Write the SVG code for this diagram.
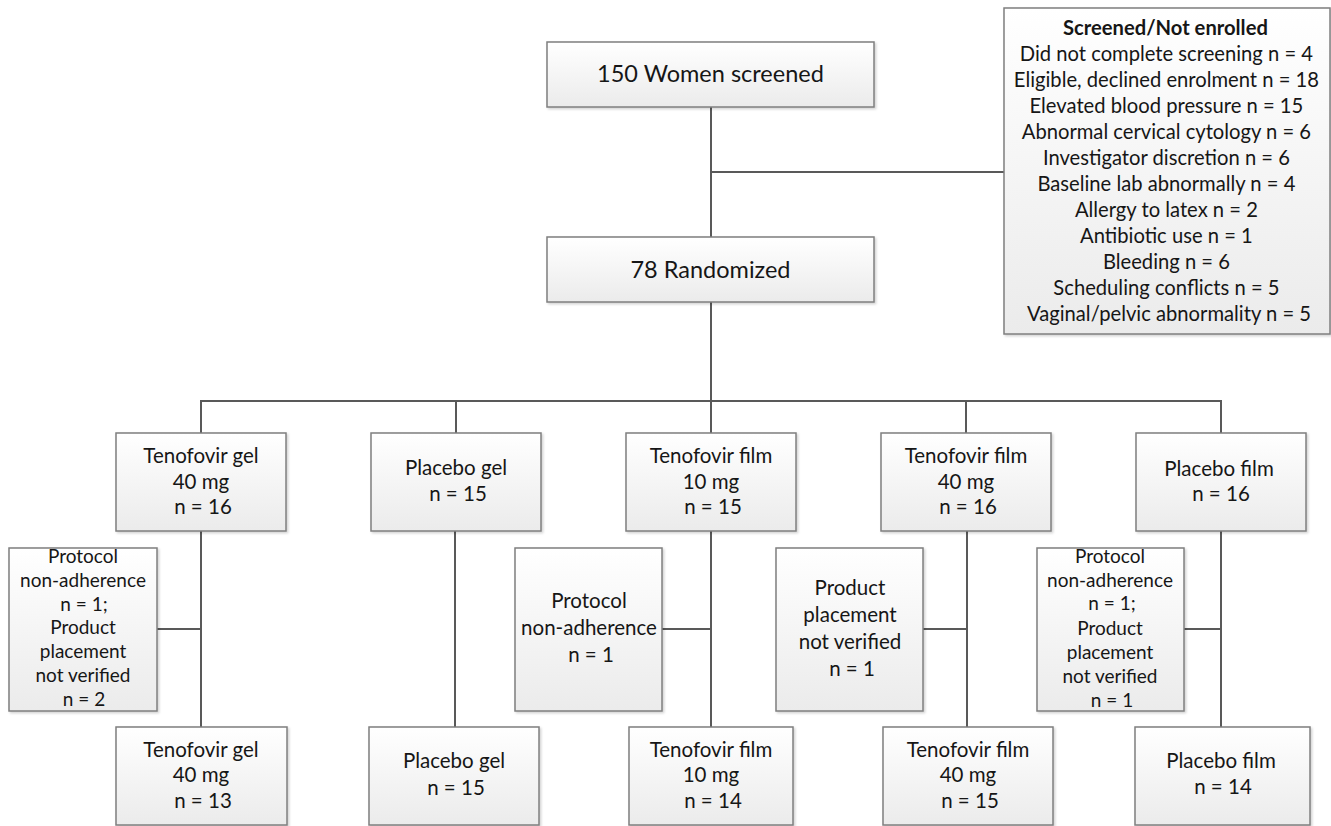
<svg xmlns="http://www.w3.org/2000/svg" width="1331" height="826" viewBox="0 0 1331 826">
<style>
.box{fill:url(#g);stroke:#7f7f7f;stroke-width:1.5;filter:url(#sh)}
.t{font-family:Lato,"Liberation Sans",sans-serif;fill:#161616;text-anchor:middle;font-size:20.5px}
.big{font-size:23.5px}
.sm{font-size:19px}
.ne{font-size:20.2px}
.b{font-weight:bold}
.c line{stroke:#595959;stroke-width:2}
</style>
<defs>
<linearGradient id="g" x1="0" y1="0" x2="0" y2="1">
<stop offset="0" stop-color="#ffffff"/>
<stop offset="1" stop-color="#ebebeb"/>
</linearGradient>
<filter id="sh" x="-5%" y="-5%" width="115%" height="115%">
<feDropShadow dx="1.5" dy="1.5" stdDeviation="1" flood-color="#000" flood-opacity="0.18"/>
</filter>
</defs>
<rect width="1331" height="826" fill="#fff"/>
<g class="c" id="connectors">
<line x1="711" y1="107" x2="711" y2="237"/>
<line x1="711" y1="172" x2="1004" y2="172"/>
<line x1="711" y1="302" x2="711" y2="401"/>
<line x1="200" y1="401" x2="1222" y2="401"/>
<line x1="201" y1="401" x2="201" y2="433"/>
<line x1="456" y1="401" x2="456" y2="433"/>
<line x1="711" y1="401" x2="711" y2="433"/>
<line x1="966" y1="401" x2="966" y2="433"/>
<line x1="1221" y1="401" x2="1221" y2="433"/>
<line x1="201" y1="531" x2="201" y2="727"/>
<line x1="455" y1="531" x2="455" y2="727"/>
<line x1="711" y1="531" x2="711" y2="727"/>
<line x1="967" y1="531" x2="967" y2="727"/>
<line x1="1221" y1="531" x2="1221" y2="727"/>
<line x1="157" y1="629" x2="201" y2="629"/>
<line x1="662" y1="629" x2="711" y2="629"/>
<line x1="923" y1="629" x2="967" y2="629"/>
<line x1="1184" y1="629" x2="1221" y2="629"/>
</g>
<g id="screened">
<rect class="box" x="547" y="42" width="327" height="65"/>
<text class="t big" x="710.5" y="82">150 Women screened</text>
</g>
<g id="randomized">
<rect class="box" x="547" y="237" width="327" height="65"/>
<text class="t big" x="710.5" y="278">78 Randomized</text>
</g>
<g id="not-enrolled">
<rect class="box" x="1004" y="8" width="326" height="326"/>
<text class="t ne" x="1169">
<tspan class="b" x="1168" y="35">Screened/Not enrolled</tspan>
<tspan x="1169" y="61">Did not complete screening n = 4</tspan>
<tspan x="1169" y="87">Eligible, declined enrolment n = 18</tspan>
<tspan x="1169" y="113">Elevated blood pressure n = 15</tspan>
<tspan x="1169" y="139">Abnormal cervical cytology n = 6</tspan>
<tspan x="1169" y="165">Investigator discretion n = 6</tspan>
<tspan x="1169" y="191">Baseline lab abnormally n = 4</tspan>
<tspan x="1169" y="217">Allergy to latex n = 2</tspan>
<tspan x="1169" y="243">Antibiotic use n = 1</tspan>
<tspan x="1169" y="269">Bleeding n = 6</tspan>
<tspan x="1169" y="295">Scheduling conflicts n = 5</tspan>
<tspan x="1169" y="321">Vaginal/pelvic abnormality n = 5</tspan>
</text>
</g>
<g id="tgel40">
<rect class="box" x="116" y="433" width="170" height="98"/>
<text class="t"><tspan x="201" y="463">Tenofovir gel</tspan><tspan x="201" y="489">40 mg</tspan><tspan x="203" y="514">n = 16</tspan></text>
</g>
<g id="pgel">
<rect class="box" x="371" y="433" width="170" height="98"/>
<text class="t"><tspan x="456" y="475">Placebo gel</tspan><tspan x="458" y="501">n = 15</tspan></text>
</g>
<g id="tfilm10">
<rect class="box" x="626" y="433" width="170" height="98"/>
<text class="t"><tspan x="711" y="463">Tenofovir film</tspan><tspan x="711" y="489">10 mg</tspan><tspan x="713" y="514">n = 15</tspan></text>
</g>
<g id="tfilm40">
<rect class="box" x="881" y="433" width="170" height="98"/>
<text class="t"><tspan x="966" y="463">Tenofovir film</tspan><tspan x="966" y="489">40 mg</tspan><tspan x="968" y="514">n = 16</tspan></text>
</g>
<g id="pfilm">
<rect class="box" x="1136" y="433" width="170" height="98"/>
<text class="t"><tspan x="1219" y="476">Placebo film</tspan><tspan x="1221" y="501">n = 16</tspan></text>
</g>
<g id="excl-tgel40">
<rect class="box" x="9" y="548" width="148" height="163"/>
<text class="t sm"><tspan x="83" y="563">Protocol</tspan><tspan x="83" y="587">non-adherence</tspan><tspan x="84" y="611">n = 1;</tspan><tspan x="83" y="634">Product</tspan><tspan x="83" y="658">placement</tspan><tspan x="83" y="682">not verified</tspan><tspan x="84" y="706">n = 2</tspan></text>
</g>
<g id="excl-tfilm10">
<rect class="box" x="515" y="548" width="147" height="163"/>
<text class="t"><tspan x="589" y="608">Protocol</tspan><tspan x="589" y="635">non-adherence</tspan><tspan x="591" y="662">n = 1</tspan></text>
</g>
<g id="excl-tfilm40">
<rect class="box" x="776" y="548" width="147" height="163"/>
<text class="t"><tspan x="850" y="595">Product</tspan><tspan x="850" y="622">placement</tspan><tspan x="850" y="649">not verified</tspan><tspan x="852" y="676">n = 1</tspan></text>
</g>
<g id="excl-pfilm">
<rect class="box" x="1037" y="548" width="147" height="163"/>
<text class="t sm"><tspan x="1110" y="563">Protocol</tspan><tspan x="1110" y="587">non-adherence</tspan><tspan x="1112" y="610">n = 1;</tspan><tspan x="1110" y="635">Product</tspan><tspan x="1110" y="659">placement</tspan><tspan x="1110" y="683">not verified</tspan><tspan x="1112" y="707">n = 1</tspan></text>
</g>
<g id="tgel40-final">
<rect class="box" x="116" y="727" width="171" height="98"/>
<text class="t"><tspan x="201" y="757">Tenofovir gel</tspan><tspan x="201" y="782">40 mg</tspan><tspan x="203" y="808">n = 13</tspan></text>
</g>
<g id="pgel-final">
<rect class="box" x="369" y="727" width="170" height="98"/>
<text class="t"><tspan x="454" y="768">Placebo gel</tspan><tspan x="456" y="795">n = 15</tspan></text>
</g>
<g id="tfilm10-final">
<rect class="box" x="629" y="727" width="164" height="98"/>
<text class="t"><tspan x="711" y="757">Tenofovir film</tspan><tspan x="711" y="782">10 mg</tspan><tspan x="713" y="808">n = 14</tspan></text>
</g>
<g id="tfilm40-final">
<rect class="box" x="883" y="727" width="170" height="98"/>
<text class="t"><tspan x="968" y="757">Tenofovir film</tspan><tspan x="968" y="782">40 mg</tspan><tspan x="970" y="808">n = 15</tspan></text>
</g>
<g id="pfilm-final">
<rect class="box" x="1135" y="727" width="175" height="98"/>
<text class="t"><tspan x="1221" y="768">Placebo film</tspan><tspan x="1223" y="794">n = 14</tspan></text>
</g>
</svg>
